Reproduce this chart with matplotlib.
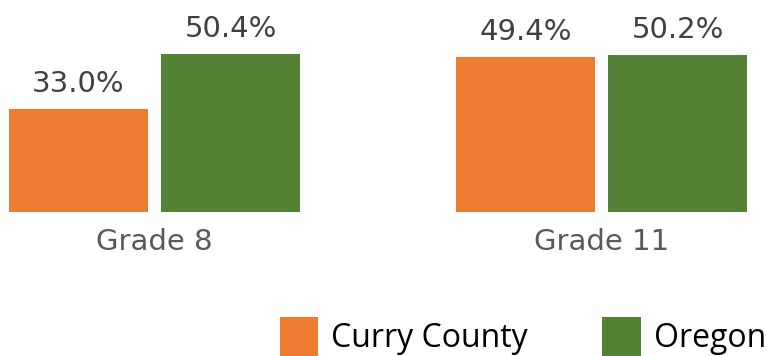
import numpy as np
import matplotlib.pyplot as plt

grades = ['Grade 8', 'Grade 11']
curry = [33.0, 49.4]
oregon = [50.4, 50.2]

ORANGE = '#ED7D31'
GREEN = '#548235'

W, H, DPI = 766, 356, 100
fig = plt.figure(figsize=(W / DPI, H / DPI), dpi=DPI)

# axes spans the bars exactly, bottom of bars at y=212 px
ax = fig.add_axes([9 / W, 1 - 212 / H, 738 / W, 212 / H])
ax.set_axis_off()

bw = 0.311
off = 0.170
x = np.arange(len(grades))
b1 = ax.bar(x - off, curry, bw, color=ORANGE, label='Curry County')
b2 = ax.bar(x + off, oregon, bw, color=GREEN, label='Oregon')
ax.set_xlim(-off - bw / 2, 1 + off + bw / 2)
ax.set_ylim(0, 212 / 3.13)

for bars, vals in ((b1, curry), (b2, oregon)):
    for b, v in zip(bars, vals):
        ax.annotate('%.1f%%' % v, (b.get_x() + b.get_width() / 2, v),
                    xytext=(0, 12.3), textcoords='offset points',
                    ha='center', va='baseline', fontsize=21, color='#404040',
                    family='DejaVu Sans')

for xi, g in zip(x, grades):
    ax.annotate(g, (xi, 0), xytext=(0, -27.5), textcoords='offset points',
                ha='center', va='baseline', fontsize=21, color='#595959',
                family='DejaVu Sans')

leg = fig.legend(handles=[b1, b2], loc='lower right', bbox_to_anchor=(1.0, 0.0),
                 ncol=2, frameon=False, prop={'family': 'Open Sans', 'size': 23},
                 handlelength=1.22, handleheight=1.5, handletextpad=0.4,
                 columnspacing=2.32, borderaxespad=0.0, borderpad=0.0)

fig.savefig('out.png', dpi=DPI)
